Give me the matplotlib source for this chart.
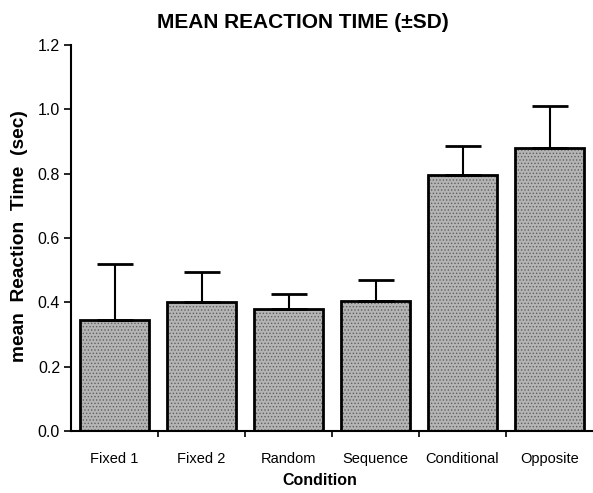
import matplotlib.pyplot as plt
import numpy as np

# Datos
conditions = ['Fixed 1', 'Fixed 2', 'Random', 'Sequence', 'Conditional', 'Opposite']
mean_rt = [0.345, 0.400, 0.380, 0.405, 0.795, 0.880]
sd_rt = [0.175, 0.095, 0.045, 0.065, 0.090, 0.130]

plt.rcParams['font.family'] = ['Liberation Sans', 'DejaVu Sans']
plt.rcParams['hatch.linewidth'] = 0.6

fig = plt.figure(figsize=(5.93, 4.93), dpi=100)
ax = fig.add_axes([0.12, 0.126, 0.88, 0.783])

x = np.arange(len(conditions))
# relleno punteado (estilo impreso)
ax.bar(x, mean_rt, width=0.8, color='#b4b4b4', edgecolor='#606060', linewidth=0,
       hatch='.....')
# contorno y barras de error
ax.bar(x, mean_rt, width=0.8, color='none', edgecolor='black', linewidth=2,
       yerr=[np.zeros(len(sd_rt)), sd_rt],
       error_kw=dict(ecolor='black', elinewidth=1.5, capsize=13, capthick=2))

ax.set_xlim(-0.5, 5.5)
ax.set_ylim(0, 1.2)
ax.set_yticks(np.arange(0, 1.21, 0.2))
ax.set_yticklabels([f'{v:.1f}' for v in np.arange(0, 1.21, 0.2)], fontsize=11.5)
ax.set_xticks(x)
ax.set_xticklabels(conditions, fontsize=10.5)
ax.set_xticks(np.arange(0.5, 5.5, 1), minor=True)
ax.tick_params(axis='x', which='major', length=0, pad=15)
ax.tick_params(axis='x', which='minor', length=4, width=1.2, direction='out')
ax.tick_params(axis='y', length=5, width=1.2, direction='out', pad=3)

for s in ['top', 'right']:
    ax.spines[s].set_visible(False)
ax.spines['left'].set_linewidth(1.5)
ax.spines['bottom'].set_linewidth(1.5)

ax.set_title('MEAN REACTION TIME (\u00b1SD)', fontsize=15, fontweight='bold', pad=12, x=0.444)
ax.set_xlabel('Condition', fontsize=11.5, fontweight='bold')
ax.xaxis.set_label_coords(0.477, -0.108)
ax.set_ylabel('mean  Reaction  Time  (sec)', fontsize=13.8, fontweight='bold')
ax.yaxis.set_label_coords(-0.083, 0.505)

fig.savefig('out.png', dpi=100)
